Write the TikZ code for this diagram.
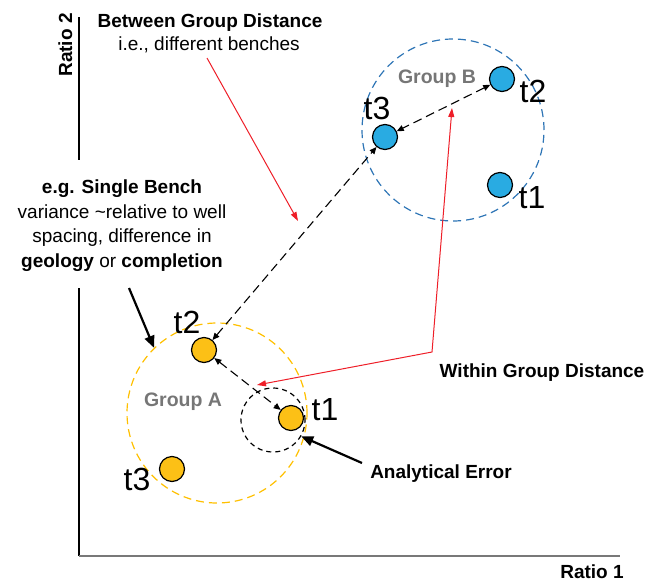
\documentclass[tikz,border=0pt]{standalone}
\usepackage{fontspec}
\setmainfont{Liberation Sans}
\usetikzlibrary{arrows.meta}
\definecolor{ptorange}{RGB}{252,192,22}
\definecolor{ptblue}{RGB}{41,171,226}
\definecolor{circorange}{RGB}{255,192,0}
\definecolor{circblue}{RGB}{46,117,182}
\definecolor{grptext}{RGB}{118,118,118}
\definecolor{myred}{RGB}{238,30,40}
\definecolor{axisgray}{RGB}{120,120,120}
\begin{document}
\begin{tikzpicture}[x=1pt,y=-1pt,
  dotA/.style={circle, draw=black, line width=1.2pt, fill=ptorange, minimum size=25pt, inner sep=0pt},
  dotB/.style={circle, draw=black, line width=1.2pt, fill=ptblue, minimum size=25pt, inner sep=0pt},
  tlab/.style={font=\fontsize{32}{32}\selectfont, inner sep=0pt},
  lab/.style={font=\fontsize{19}{24}\selectfont\bfseries, inner sep=0pt, anchor=base},
  reg/.style={font=\fontsize{19}{24}\selectfont, inner sep=0pt, anchor=base},
  grptxt/.style={font=\fontsize{19.5}{24}\selectfont\bfseries, text=grptext, inner sep=0pt, anchor=base},
  grpcirc/.style={circle, inner sep=0pt, line width=1.2pt, dash pattern=on 8pt off 5pt},
  darr/.style={line width=1.1pt, dash pattern=on 9pt off 5pt, {Triangle[length=7pt,width=6pt]}-{Triangle[length=7pt,width=6pt]}},
  blkarr/.style={line width=2.2pt, -{Triangle[length=12pt,width=10pt]}},
  redline/.style={draw=myred, line width=1pt}
]
\useasboundingbox (0,0) rectangle (650,581);

% axes
\coordinate (yTop) at (79,17);
\coordinate (yGapT) at (79,160);
\coordinate (yGapB) at (79,288);
\coordinate (O) at (79,556);
\coordinate (xEnd) at (620,556);
\draw[line width=1.3pt] (yTop) -- (yGapT);
\draw[line width=1.3pt] (yGapB) -- (O);
\draw[line width=1.3pt, axisgray] (O) -- (xEnd);
\node[lab, rotate=90] (r2) at (72,45) {Ratio 2};
\node[lab] (r1) at (592,578) {Ratio 1};

% group circles
\node[grpcirc, draw=circorange, minimum size=180pt] (GA) at (217,413) {};
\node[grpcirc, draw=circblue, minimum size=182pt] (GB) at (453,130) {};
\node[circle, draw=black, line width=1.2pt, dash pattern=on 5pt off 4pt, minimum size=64pt, inner sep=0pt] (AE) at (273,420) {};

\node[grptxt] (gA) at (183,406) {Group A};
\node[grptxt] (gB) at (437,83) {Group B};

% points
\node[dotA] (A2) at (204,350) {};
\node[dotA] (A1) at (291,418) {};
\node[dotA] (A3) at (172,469) {};
\node[dotB] (B2) at (502,79) {};
\node[dotB] (B3) at (385,137) {};
\node[dotB] (B1) at (500,185) {};

\node[tlab] (lA2) at (187,322) {t2};
\node[tlab] (lA1) at (325,410) {t1};
\node[tlab] (lA3) at (137,479) {t3};
\node[tlab] (lB2) at (533,91) {t2};
\node[tlab] (lB3) at (377,108) {t3};
\node[tlab] (lB1) at (532,198) {t1};

% dashed distance arrows
\draw[darr] (A2) -- (A1);
\draw[darr] (A2) -- (B3);
\draw[darr] (B2) -- (B3);

% texts
\node[lab] (bgd) at (210,27) {Between Group Distance};
\node[reg] (bgd2) at (209,50) {i.e., different benches};
\node[lab] (sb1) at (122,193) {e.g. Single Bench};
\node[reg] (sb2) at (122,218) {variance \textasciitilde relative to well};
\node[reg] (sb3) at (122,242) {spacing, difference in};
\node[reg] (sb4) at (122,267) {\textbf{geology} or \textbf{completion}};
\node[lab] (wgd) at (542,377) {Within Group Distance};
\node[lab] (ae) at (441,478) {Analytical Error};

% red arrows
\coordinate (bstart) at (207,58);
\coordinate (btip) at (298,221);
\draw[redline, -{Triangle[length=9pt,width=6pt]}] (bstart) -- (btip);
\coordinate (wA) at (257,385);
\coordinate (wK) at (432,352);
\coordinate (wB) at (452,108);
\draw[redline, {Triangle[length=9pt,width=6pt]}-{Triangle[length=9pt,width=6pt]}] (wA) -- (wK) -- (wB);

% black arrows
\coordinate (sbs) at (129,288);
\draw[blkarr] (sbs) -- (GA.134);
\coordinate (aes) at (362,463);
\draw[blkarr] (aes) -- (AE.-30);
\end{tikzpicture}
\end{document}
